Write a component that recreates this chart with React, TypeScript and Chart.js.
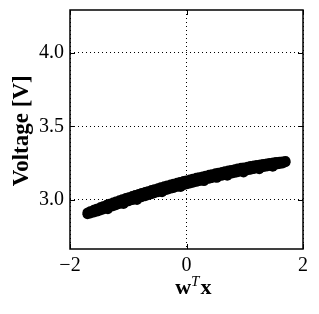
import React, { useEffect, useRef } from "react";
import { Chart, registerables } from "chart.js";
Chart.register(...registerables);

const xTicks = [-2, 0, 2];
const yTicks = [3.0, 3.5, 4.0];

const xs = [
  -1.70, -1.65, -1.59, -1.54, -1.48, -1.43, -1.37, -1.32, -1.26, -1.21, -1.15, -1.10, -1.04,
  -0.99, -0.93, -0.88, -0.82, -0.77, -0.71, -0.66, -0.60, -0.55, -0.49, -0.44, -0.38, -0.33,
  -0.27, -0.22, -0.16, -0.11, -0.05, 0.00, 0.06, 0.11, 0.17, 0.22, 0.28, 0.33, 0.39, 0.44,
  0.50, 0.55, 0.61, 0.66, 0.72, 0.77, 0.83, 0.88, 0.94, 0.99, 1.05, 1.10, 1.16, 1.21, 1.27,
  1.32, 1.38, 1.43, 1.49, 1.54, 1.60, 1.65, 1.70,
];
const yUpper = [
  2.914, 2.924, 2.934, 2.941, 2.951, 2.958, 2.967, 2.974, 2.983, 2.990, 2.998, 3.005, 3.013,
  3.019, 3.027, 3.033, 3.041, 3.047, 3.054, 3.060, 3.067, 3.073, 3.080, 3.086, 3.093, 3.098,
  3.105, 3.110, 3.117, 3.122, 3.128, 3.133, 3.139, 3.144, 3.150, 3.155, 3.160, 3.165, 3.171,
  3.175, 3.181, 3.185, 3.190, 3.195, 3.200, 3.204, 3.209, 3.213, 3.218, 3.221, 3.226, 3.230,
  3.234, 3.237, 3.241, 3.244, 3.248, 3.251, 3.254, 3.257, 3.260, 3.262, 3.264,
];
const yLower = [
  2.903, 2.908, 2.915, 2.921, 2.929, 2.935, 2.943, 2.950, 2.957, 2.964, 2.972, 2.978, 2.986,
  2.992, 2.999, 3.006, 3.013, 3.019, 3.026, 3.032, 3.039, 3.045, 3.052, 3.058, 3.065, 3.070,
  3.077, 3.082, 3.089, 3.094, 3.101, 3.106, 3.112, 3.117, 3.123, 3.128, 3.134, 3.139, 3.144,
  3.149, 3.155, 3.159, 3.165, 3.169, 3.175, 3.179, 3.184, 3.188, 3.193, 3.197, 3.202, 3.206,
  3.211, 3.215, 3.219, 3.223, 3.228, 3.232, 3.236, 3.240, 3.244, 3.248, 3.256,
];
const outlierX = [-1.35, -1.08, -0.85, -0.42, -0.10, 0.30, 0.52, 0.70, 0.98, 1.25, 1.48];
const outlierY = [2.937, 2.972, 3.000, 3.052, 3.088, 3.128, 3.150, 3.164, 3.187, 3.209, 3.226];

const SERIF = '"Liberation Serif", "DejaVu Serif", serif';

export default function App() {
  const ref = useRef<HTMLCanvasElement>(null);

  useEffect(() => {
    if (!ref.current) return;
    const points: { x: number; y: number }[] = [];
    xs.forEach((x, i) => {
      points.push({ x, y: yLower[i] });
      points.push({ x, y: yUpper[i] });
    });
    outlierX.forEach((x, i) => points.push({ x, y: outlierY[i] }));

    const frame = {
      id: "frame",
      afterDraw(chart: any) {
        const { ctx, chartArea: a, scales } = chart;
        ctx.save();
        ctx.strokeStyle = "#000";
        ctx.lineWidth = 1;
        const tl = 5;
        ctx.beginPath();
        xTicks.forEach((v) => {
          const px = Math.round(scales.x.getPixelForValue(v)) + 0.5;
          ctx.moveTo(px, a.bottom);
          ctx.lineTo(px, a.bottom - tl);
          ctx.moveTo(px, a.top);
          ctx.lineTo(px, a.top + tl);
        });
        yTicks.forEach((v) => {
          const py = Math.round(scales.y.getPixelForValue(v)) + 0.5;
          ctx.moveTo(a.left, py);
          ctx.lineTo(a.left + tl, py);
          ctx.moveTo(a.right, py);
          ctx.lineTo(a.right - tl, py);
        });
        ctx.stroke();
        ctx.lineWidth = 1.5;
        ctx.strokeRect(a.left, a.top, a.right - a.left, a.bottom - a.top);

        ctx.fillStyle = "#000";
        ctx.save();
        ctx.translate(28, 130.8);
        ctx.rotate(-Math.PI / 2);
        ctx.font = `bold 23px ${SERIF}`;
        ctx.textAlign = "center";
        ctx.textBaseline = "alphabetic";
        ctx.fillText("Voltage [V]", 0, 0);
        ctx.restore();

        const base = 294;
        ctx.textBaseline = "alphabetic";
        ctx.textAlign = "left";
        const fb = `bold 22px ${SERIF}`;
        const fi = `italic 15px ${SERIF}`;
        ctx.font = fb;
        const ww = ctx.measureText("w").width;
        const wx = ctx.measureText("x").width;
        ctx.font = fi;
        const wt = ctx.measureText("T").width;
        const total = ww + wt + 1 + wx;
        let x0 = 193.3 - total / 2;
        ctx.font = fb;
        ctx.fillText("w", x0, base);
        x0 += ww;
        ctx.font = fi;
        ctx.fillText("T", x0, base - 8);
        x0 += wt + 1;
        ctx.font = fb;
        ctx.fillText("x", x0, base);
        ctx.restore();
      },
    };

    const chart = new Chart(ref.current, {
      type: "scatter",
      data: {
        datasets: [
          {
            data: points,
            backgroundColor: "#000",
            borderColor: "#000",
            borderWidth: 0,
            pointRadius: 5,
            pointHoverRadius: 5,
          },
        ],
      },
      options: {
        animation: false,
        responsive: false,
        devicePixelRatio: 1,
        events: [],
        layout: { padding: { top: 10, right: 16, left: 0, bottom: 0 } },
        plugins: { legend: { display: false }, tooltip: { enabled: false } },
        scales: {
          x: {
            type: "linear",
            min: -2,
            max: 2,
            afterFit: (s: any) => {
              s.height = 65;
              s.paddingLeft = 0;
              s.paddingRight = 0;
            },
            afterBuildTicks: (s: any) => {
              s.ticks = xTicks.map((v) => ({ value: v }));
            },
            ticks: {
              color: "#000",
              padding: 5,
              maxRotation: 0,
              font: { family: SERIF, size: 20 },
              callback: (v: any) => (Number(v) < 0 ? "\u2212" + Math.abs(Number(v)) : String(v)),
            },
            grid: { color: "#000", lineWidth: 1, drawTicks: false },
            border: { display: false, dash: [1, 3] },
          },
          y: {
            type: "linear",
            min: 2.667,
            max: 4.29,
            afterFit: (s: any) => {
              s.width = 70;
              s.paddingTop = 0;
              s.paddingBottom = 0;
            },
            afterBuildTicks: (s: any) => {
              s.ticks = yTicks.map((v) => ({ value: v }));
            },
            ticks: {
              color: "#000",
              padding: 6,
              font: { family: SERIF, size: 20 },
              callback: (v: any) => Number(v).toFixed(1),
            },
            grid: { color: "#000", lineWidth: 1, drawTicks: false },
            border: { display: false, dash: [1, 3] },
          },
        },
      },
      plugins: [frame],
    });
    return () => chart.destroy();
  }, []);

  return (
    <div style={{ position: "fixed", left: 0, top: 0, width: 319, height: 314, background: "#fff" }}>
      <canvas ref={ref} width={319} height={314} style={{ display: "block", width: 319, height: 314 }} />
    </div>
  );
}
